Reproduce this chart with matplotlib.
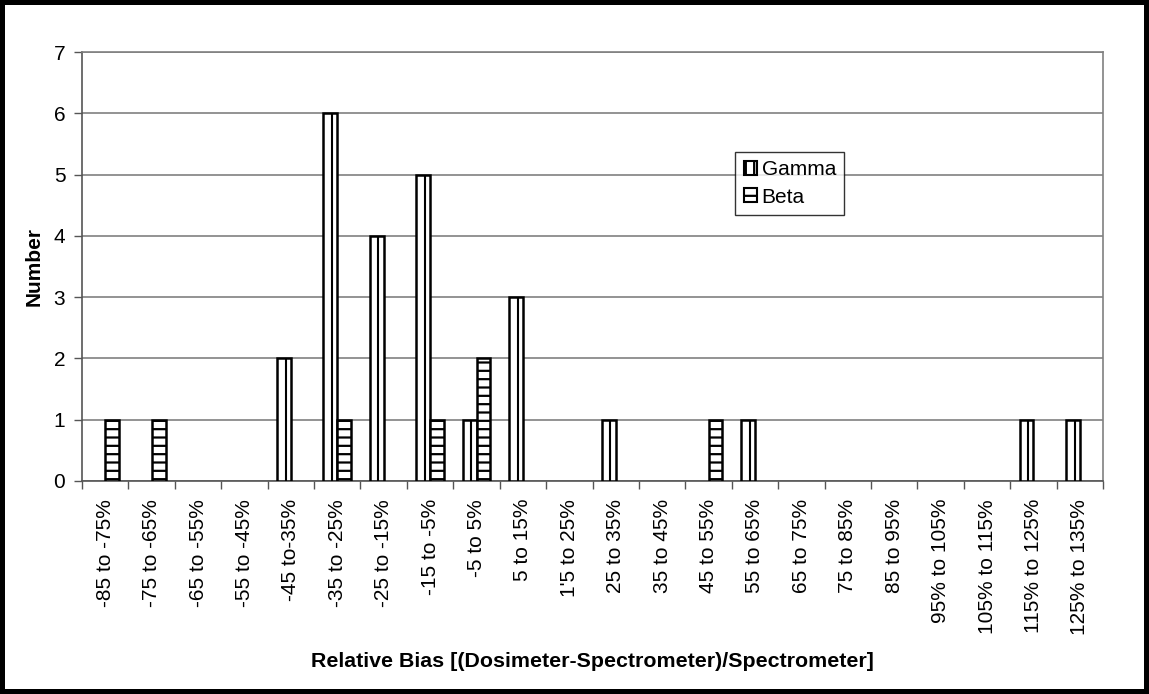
import matplotlib
matplotlib.use("Agg")
import matplotlib.pyplot as plt
import numpy as np
from matplotlib.patches import Patch

categories = ["-85 to -75%", "-75 to -65%", "-65 to -55%", "-55 to -45%", "-45 to-35%",
              "-35 to -25%", "-25 to -15%", "-15 to -5%", "-5 to 5%", "5 to 15%",
              "1'5 to 25%", "25 to 35%", "35 to 45%", "45 to 55%", "55 to 65%",
              "65 to 75%", "75 to 85%", "85 to 95%", "95% to 105%", "105% to 115%",
              "115% to 125%", "125% to 135%"]
gamma = [0, 0, 0, 0, 2, 6, 4, 5, 1, 3, 0, 1, 0, 0, 1, 0, 0, 0, 0, 0, 1, 1]
beta = [1, 1, 0, 0, 0, 1, 0, 1, 2, 0, 0, 0, 0, 1, 0, 0, 0, 0, 0, 0, 0, 0]
yticks = [0, 1, 2, 3, 4, 5, 6, 7]

plt.rcParams['font.family'] = ['Liberation Sans', 'DejaVu Sans']
plt.rcParams['hatch.linewidth'] = 1.6

fig = plt.figure(figsize=(11.49, 6.94), dpi=100)
fig.patch.set_facecolor('white')
fig.patch.set_edgecolor('black')
fig.patch.set_linewidth(6)

ax = fig.add_axes([0.0714, 0.307, 0.8886, 0.618])
x = np.arange(len(categories))
w = 0.3

gb = ax.bar(x - w / 2, gamma, width=w, facecolor='white', edgecolor='black', linewidth=1.8, zorder=3)
bb = ax.bar(x + w / 2, beta, width=w, facecolor='white', edgecolor='black', linewidth=1.8,
            hatch='--', zorder=3)

# hide empty bars
for p in list(gb.patches) + list(bb.patches):
    if p.get_height() == 0:
        p.set_visible(False)

# vertical stripe inside each gamma bar
for p in gb.patches:
    h = p.get_height()
    if h > 0:
        xs = p.get_x() + p.get_width() * 0.62
        ax.plot([xs, xs], [0, h], color='black', linewidth=1.5, zorder=4, solid_capstyle='butt')

ax.set_xlim(-0.5, len(categories) - 0.5)
ax.set_ylim(0, 7)
ax.set_yticks(yticks)
ax.set_yticklabels([str(v) for v in yticks], fontsize=15)
ax.yaxis.grid(True, color='#808080', linewidth=1.2, zorder=0)
ax.set_axisbelow(True)

ax.set_xticks(x)
ax.set_xticklabels(categories, rotation=90, fontsize=15)
ax.set_xticks(np.arange(len(categories) + 1) - 0.5, minor=True)
ax.tick_params(axis='x', which='major', length=0, pad=13)
ax.tick_params(axis='x', which='minor', length=6, width=1, color='#555555', direction='out')
ax.tick_params(axis='y', length=6, width=1, color='#555555', direction='out', pad=6)

for s in ax.spines.values():
    s.set_color('#808080')
    s.set_linewidth(1.2)
ax.spines['left'].set_color('#555555')
ax.spines['bottom'].set_color('#555555')

ax.set_ylabel('Number', fontsize=15, fontweight='bold', labelpad=7)
ax.set_xlabel('Relative Bias [(Dosimeter-Spectrometer)/Spectrometer]', fontsize=15.4,
              fontweight='bold', labelpad=12)

handles = [Patch(facecolor='white', edgecolor='black', hatch='||', linewidth=1.5, label='Gamma'),
           Patch(facecolor='white', edgecolor='black', hatch='--', linewidth=1.5, label='Beta')]
leg = ax.legend(handles=handles, loc='upper left', bbox_to_anchor=(0.640, 0.767),
                fontsize=15, frameon=True, fancybox=False, handlelength=0.65,
                handleheight=0.65, handletextpad=0.2, borderpad=0.4, labelspacing=0.4,
                borderaxespad=0)
leg.get_frame().set_edgecolor('black')
leg.get_frame().set_linewidth(1.0)

fig.savefig('out.png', dpi=100, facecolor=fig.get_facecolor(), edgecolor=fig.get_edgecolor())
